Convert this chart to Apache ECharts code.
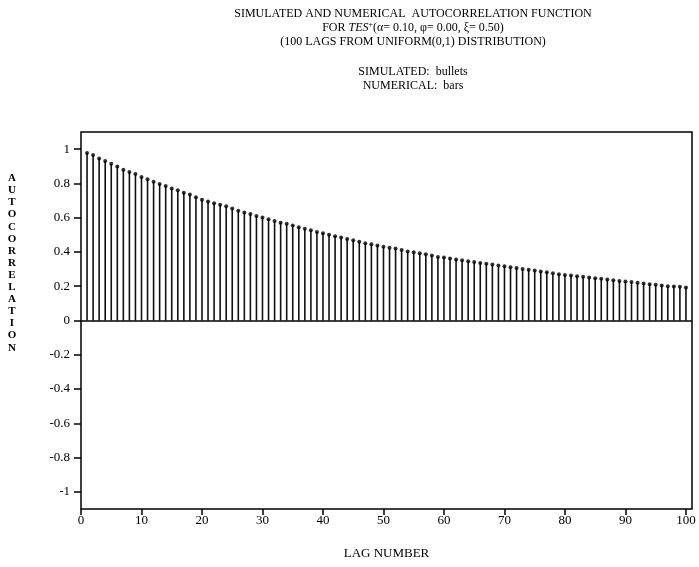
<!DOCTYPE html>
<html><head><meta charset="utf-8">
<script src="https://cdn.jsdelivr.net/npm/echarts@6/dist/echarts.min.js"></script>
<style>html,body{margin:0;padding:0;background:#fff}#c{width:699px;height:567px}</style>
</head><body><div id="c"></div>
<script>
const lags = Array.from({length: 100}, (_, i) => i + 1);
const numerical = [0.978,0.966,0.946,0.931,0.914,0.898,0.880,0.867,0.855,0.838,
0.824,0.810,0.797,0.785,0.770,0.760,0.746,0.735,0.719,0.704,
0.694,0.684,0.675,0.667,0.654,0.641,0.630,0.622,0.610,0.601,
0.591,0.581,0.571,0.564,0.554,0.544,0.535,0.527,0.517,0.509,
0.501,0.492,0.484,0.476,0.468,0.459,0.451,0.445,0.437,0.430,
0.424,0.420,0.412,0.402,0.398,0.393,0.387,0.379,0.371,0.367,
0.362,0.356,0.352,0.346,0.342,0.336,0.331,0.327,0.321,0.317,
0.311,0.307,0.301,0.296,0.292,0.286,0.282,0.276,0.270,0.266,
0.262,0.258,0.255,0.251,0.247,0.243,0.239,0.235,0.231,0.227,
0.224,0.220,0.216,0.212,0.208,0.204,0.200,0.198,0.197,0.192];
const simulated = [0.978,0.966,0.946,0.931,0.914,0.898,0.880,0.867,0.855,0.838,
0.824,0.810,0.797,0.785,0.770,0.760,0.746,0.735,0.719,0.704,
0.694,0.684,0.675,0.667,0.654,0.641,0.630,0.622,0.610,0.601,
0.591,0.581,0.571,0.564,0.554,0.544,0.535,0.527,0.517,0.509,
0.501,0.492,0.484,0.476,0.468,0.459,0.451,0.445,0.437,0.430,
0.424,0.420,0.412,0.402,0.398,0.393,0.387,0.379,0.371,0.367,
0.362,0.356,0.352,0.346,0.342,0.336,0.331,0.327,0.321,0.317,
0.311,0.307,0.301,0.296,0.292,0.286,0.282,0.276,0.270,0.266,
0.262,0.258,0.255,0.251,0.247,0.243,0.239,0.235,0.231,0.227,
0.224,0.220,0.216,0.212,0.208,0.204,0.200,0.198,0.197,0.192];
const xTicks = [0,10,20,30,40,50,60,70,80,90,100];
const yTicks = [-1,-0.8,-0.6,-0.4,-0.2,0,0.2,0.4,0.6,0.8,1];
const yTickLabels = ['-1','-0.8','-0.6','-0.4','-0.2','0','0.2','0.4','0.6','0.8','1'];

const FONT = 'Liberation Serif';
const chart = echarts.init(document.getElementById('c'), null, {renderer: 'canvas'});
const base = {fontFamily: FONT, fontSize: 12, fill: '#000'};
chart.setOption({
  animation: false,
  backgroundColor: '#fff',
  grid: {left: 81, top: 132, width: 611, height: 377, show: true, borderColor: '#000', borderWidth: 1.5, backgroundColor: 'transparent'},
  xAxis: {
    type: 'value', min: 0, max: 101, position: 'bottom',
    axisLine: {show: false, onZero: false},
    splitLine: {show: false},
    axisTick: {show: true, customValues: xTicks, length: 6, lineStyle: {color: '#000', width: 1.5}},
    axisLabel: {customValues: xTicks, margin: 5, fontSize: 13, color: '#000', fontFamily: FONT},
    name: 'LAG NUMBER', nameLocation: 'middle', nameGap: 38,
    nameTextStyle: {fontSize: 13, color: '#000', fontFamily: FONT}
  },
  yAxis: {
    type: 'value', min: -1.1, max: 1.1, position: 'left',
    axisLine: {show: false, onZero: false},
    splitLine: {show: false},
    axisTick: {show: true, customValues: yTicks, length: 7, lineStyle: {color: '#000', width: 1.5}},
    axisLabel: {customValues: yTicks, margin: 11, fontSize: 13, color: '#000', fontFamily: FONT,
      formatter: v => { const i = yTicks.findIndex(t => Math.abs(t - v) < 1e-6); return i >= 0 ? yTickLabels[i] : ''; }}
  },
  series: [
    {
      name: 'NUMERICAL', type: 'bar', barWidth: 1.6,
      itemStyle: {color: '#111'},
      data: lags.map((l, i) => [l, numerical[i]]),
      markLine: {silent: true, symbol: 'none', label: {show: false},
        lineStyle: {color: '#000', width: 1.5, type: 'solid'}, data: [{yAxis: 0}]}
    },
    {
      name: 'SIMULATED', type: 'scatter', symbol: 'circle', symbolSize: 4,
      itemStyle: {color: '#000'},
      data: lags.map((l, i) => [l, simulated[i]])
    }
  ],
  graphic: [
    {type: 'text', x: 413, y: 14, style: Object.assign({}, base, {text: 'SIMULATED AND NUMERICAL  AUTOCORRELATION FUNCTION', align: 'center', verticalAlign: 'middle'})},
    {type: 'text', x: 413, y: 28, style: Object.assign({}, base, {
      text: '{n|FOR }{i|TES}{s|+}{n|(α= 0.10, φ= 0.00, ξ= 0.50)}', align: 'center', verticalAlign: 'middle',
      rich: {
        n: {fontFamily: FONT, fontSize: 12, fill: '#000'},
        i: {fontFamily: FONT, fontSize: 12, fontStyle: 'italic', fill: '#000'},
        s: {fontFamily: FONT, fontSize: 8, fill: '#000', verticalAlign: 'top', padding: [0, 0, 6, 0]}
      }})},
    {type: 'text', x: 413, y: 42, style: Object.assign({}, base, {text: '(100 LAGS FROM UNIFORM(0,1) DISTRIBUTION)', align: 'center', verticalAlign: 'middle'})},
    {type: 'text', x: 413, y: 72, style: Object.assign({}, base, {text: 'SIMULATED:  bullets', align: 'center', verticalAlign: 'middle'})},
    {type: 'text', x: 413, y: 86, style: Object.assign({}, base, {text: 'NUMERICAL:  bars', align: 'center', verticalAlign: 'middle'})},
    {type: 'text', x: 12, y: 263, style: Object.assign({}, base, {text: 'AUTOCORRELATION'.split('').join('\n'), align: 'center', verticalAlign: 'middle', lineHeight: 12.1, fontWeight: 'bold', fontSize: 11})}
  ]
});
</script></body></html>
